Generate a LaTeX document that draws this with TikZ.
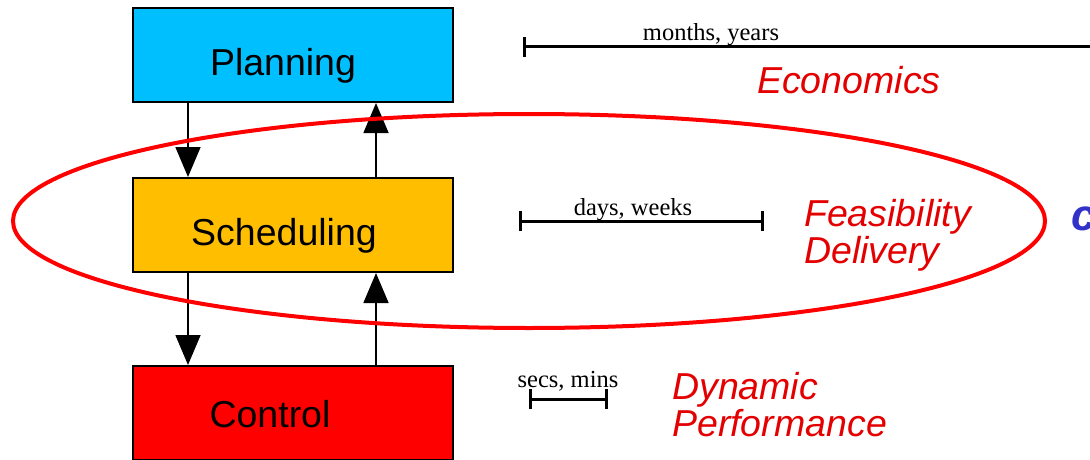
\documentclass[tikz,border=0pt]{standalone}
\usepackage{fontspec}
\setmainfont{Liberation Serif}
\setsansfont{Liberation Sans}
\usetikzlibrary{arrows.meta}
\definecolor{planc}{RGB}{0,191,255}
\definecolor{schedc}{RGB}{255,191,0}
\definecolor{ctrlc}{RGB}{255,0,0}
\definecolor{redtxt}{RGB}{228,0,0}
\definecolor{bluetxt}{RGB}{50,50,200}
\tikzset{
  boxst/.style={draw=black,line width=2pt,minimum width=320pt,minimum height=94pt,inner sep=0pt},
  boxtxt/.style={font=\sffamily\fontsize{37.5}{40}\selectfont,anchor=base,inner sep=0pt},
  redlab/.style={font=\sffamily\itshape\fontsize{37.5}{40}\selectfont,text=redtxt,anchor=base west,inner sep=0pt},
  timelab/.style={font=\rmfamily\fontsize{24.5}{26}\selectfont,anchor=base,inner sep=0pt},
  flow/.style={line width=1.6pt,-{Triangle[length=30pt,width=25pt]}},
  tl/.style={line width=3pt,{Bar[width=20pt,line width=3pt]}-{Bar[width=20pt,line width=3pt]}},
  tlone/.style={line width=3pt,{Bar[width=20pt,line width=3pt]}-}
}
\begin{document}
\begin{tikzpicture}[x=1pt,y=-1pt]
\useasboundingbox (0,0) rectangle (1090,460);
\clip (0,0) rectangle (1090,460);
\fill[white] (0,0) rectangle (1090,460);
% boxes
\node[boxst,fill=planc] (plan) at (293,55) {};
\node[boxst,fill=schedc] (sched) at (293,225) {};
\node[boxst,fill=ctrlc] (ctrl) at (293,413) {};
\node[boxtxt] (plant) at (283,76) {Planning};
\node[boxtxt] (schedt) at (284,245) {Scheduling};
\node[boxtxt] (ctrlt) at (270,427) {Control};
% arrows
\draw[flow] ([xshift=56pt]plan.south west) -- ([xshift=56pt]sched.north west);
\draw[flow] ([xshift=244pt]sched.north west) -- ([xshift=244pt]plan.south west);
\draw[flow] ([xshift=56pt]sched.south west) -- ([xshift=56pt]ctrl.north west);
\draw[flow] ([xshift=244pt]ctrl.north west) -- ([xshift=244pt]sched.south west);
% time lines
\coordinate (m1) at (523,47);
\coordinate (m2) at (1100,47);
\draw[tlone] (m1) -- (m2);
\node[timelab] (mlab) at (711,41) {months, years};
\coordinate (d1) at (519,221);
\coordinate (d2) at (764,221);
\draw[tl] (d1) -- (d2);
\node[timelab] (dlab) at (633,215) {days, weeks};
\coordinate (s1) at (529,399);
\coordinate (s2) at (608,399);
\draw[tl] (s1) -- (s2);
\node[timelab] (slab) at (568,387) {secs, mins};
% red labels
\node[redlab] (econ) at (757,93) {Economics};
\node[redlab] (feas) at (804,226) {Feasibility};
\node[redlab] (deliv) at (804,263) {Delivery};
\node[redlab] (dyn) at (672,399) {Dynamic};
\node[redlab] (perf) at (672,436) {Performance};
% blue cut-off text
\node[font=\sffamily\bfseries\itshape\fontsize{44}{48}\selectfont,text=bluetxt,anchor=base west,inner sep=0pt] (cut) at (1071,230) {c};
% ellipse
\draw[ctrlc,line width=4pt] (529,221) ellipse [x radius=516, y radius=107];
\end{tikzpicture}
\end{document}
